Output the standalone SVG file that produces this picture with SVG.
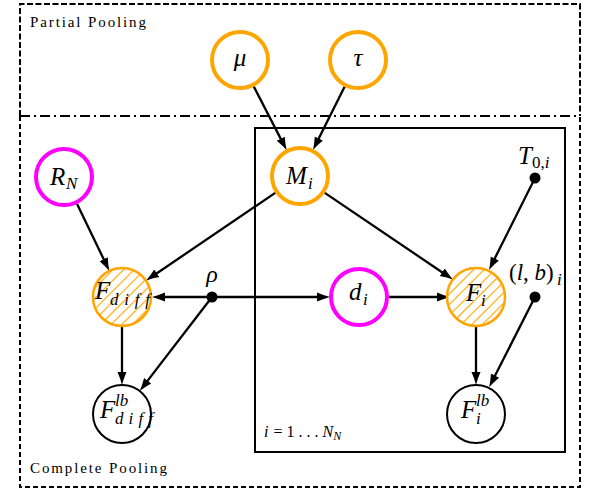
<svg xmlns="http://www.w3.org/2000/svg" width="598" height="492" viewBox="0 0 598 492">
<defs>
<marker id="arr" markerUnits="userSpaceOnUse" markerWidth="15" markerHeight="11" viewBox="0 0 15 11" refX="6" refY="5.5" orient="auto">
<path d="M0,1 Q7,4 13,5.5 Q7,7 0,10 Z" fill="#000"/>
</marker>
<pattern id="hatch" patternUnits="userSpaceOnUse" width="7.5" height="7.5" patternTransform="rotate(45)">
<rect width="7.5" height="7.5" fill="#fff"/>
<line x1="0" y1="0" x2="0" y2="7.5" stroke="#FFA500" stroke-width="2.2"/>
</pattern>
</defs>
<rect width="598" height="492" fill="#fff"/>

<g id="frames" fill="none" stroke="#000" stroke-width="2">
<path d="M20,116 V4 H580 V116" stroke-dasharray="6 2.5"/>
<path d="M20,116 V487 H580 V116" stroke-dasharray="5 3"/>
<line x1="20" y1="116" x2="580" y2="116" stroke-dasharray="10 4 2 4"/>
<rect x="255" y="128" width="310" height="324"/>
</g>

<g id="labels">
<text font-family="Liberation Serif, serif" x="30" y="27" font-size="15" textLength="116">Partial Pooling</text>
<text font-family="Liberation Serif, serif" x="30" y="473" font-size="15" textLength="137">Complete Pooling</text>
<text font-family="Liberation Serif, serif" x="264" y="437" font-size="16"><tspan font-style="italic">i</tspan><tspan dx="5">= 1 . . . </tspan><tspan font-style="italic">N</tspan><tspan font-style="italic" font-size="12" dy="3">N</tspan></text>
</g>

<g id="connectors" stroke="#000" stroke-width="2.3" fill="none" marker-end="url(#arr)">
<line x1="253.8" y1="86.6" x2="283.5" y2="144.1"/>
<line x1="344.6" y1="86.8" x2="316.1" y2="143.8"/>
<line x1="77.1" y1="204" x2="106.3" y2="264.6"/>
<line x1="275.2" y1="192.9" x2="151.8" y2="276.7"/>
<line x1="324.8" y1="192.9" x2="447.2" y2="275.7"/>
<line x1="535" y1="178" x2="492.1" y2="263.8"/>
<line x1="212" y1="297" x2="159" y2="297"/>
<line x1="212" y1="297" x2="323" y2="297"/>
<line x1="389" y1="297" x2="443" y2="297"/>
<line x1="212" y1="297" x2="144" y2="385.4"/>
<line x1="122" y1="327" x2="122" y2="378"/>
<line x1="476" y1="326" x2="476" y2="378"/>
<line x1="535" y1="297" x2="492.3" y2="381"/>
</g>

<g id="nodes">
<g id="node-mu">
<circle cx="240" cy="60" r="28" fill="#fff" stroke="#FFA500" stroke-width="4"/>
<text font-family="Liberation Serif, serif" font-style="italic" x="240" y="66" font-size="25" text-anchor="middle">μ</text>
</g>
<g id="node-tau">
<circle cx="358" cy="60" r="28" fill="#fff" stroke="#FFA500" stroke-width="4"/>
<text font-family="Liberation Serif, serif" font-style="italic" x="358" y="66" font-size="25" text-anchor="middle">τ</text>
</g>
<g id="node-M">
<circle cx="300" cy="176" r="28" fill="#fff" stroke="#FFA500" stroke-width="4"/>
<text font-family="Liberation Serif, serif" font-style="italic" x="286" y="184" font-size="25">M</text>
<text font-family="Liberation Serif, serif" font-style="italic" x="308" y="189" font-size="17">i</text>
</g>
<g id="node-RN">
<circle cx="64" cy="177" r="28" fill="#fff" stroke="#FF00FF" stroke-width="4"/>
<text font-family="Liberation Serif, serif" font-style="italic" x="50" y="185" font-size="25">R</text>
<text font-family="Liberation Serif, serif" font-style="italic" x="66" y="189" font-size="17">N</text>
</g>
<g id="node-Fdiff">
<circle cx="122" cy="297" r="29" fill="url(#hatch)" stroke="#FFA500" stroke-width="2.5"/>
<text font-family="Liberation Serif, serif" font-style="italic" x="95" y="299" font-size="25">F</text>
<text font-family="Liberation Serif, serif" font-style="italic" x="110" y="305" font-size="17" textLength="40" lengthAdjust="spacing">diff</text>
</g>
<g id="node-rho">
<circle cx="212" cy="297" r="5.5" fill="#000"/>
<text font-family="Liberation Serif, serif" font-style="italic" x="212" y="282" font-size="24" text-anchor="middle">ρ</text>
</g>
<g id="node-Fdifflb">
<circle cx="122" cy="414" r="29" fill="#fff" stroke="#000" stroke-width="2"/>
<text font-family="Liberation Serif, serif" font-style="italic" x="100" y="418" font-size="25">F</text>
<text font-family="Liberation Serif, serif" font-style="italic" x="115" y="406" font-size="17">lb</text>
<text font-family="Liberation Serif, serif" font-style="italic" x="115" y="424" font-size="17" textLength="38" lengthAdjust="spacing">diff</text>
</g>
<g id="node-d">
<circle cx="359" cy="297" r="28" fill="#fff" stroke="#FF00FF" stroke-width="4"/>
<text font-family="Liberation Serif, serif" font-style="italic" x="349" y="300" font-size="25">d</text>
<text font-family="Liberation Serif, serif" font-style="italic" x="363" y="305" font-size="17">i</text>
</g>
<g id="node-Fi">
<circle cx="476" cy="297" r="29" fill="url(#hatch)" stroke="#FFA500" stroke-width="2.5"/>
<text font-family="Liberation Serif, serif" font-style="italic" x="466" y="301" font-size="25">F</text>
<text font-family="Liberation Serif, serif" font-style="italic" x="481" y="306" font-size="17">i</text>
</g>
<g id="node-Filb">
<circle cx="476" cy="414" r="29" fill="#fff" stroke="#000" stroke-width="2"/>
<text font-family="Liberation Serif, serif" font-style="italic" x="461" y="418" font-size="25">F</text>
<text font-family="Liberation Serif, serif" font-style="italic" x="476" y="406" font-size="17">lb</text>
<text font-family="Liberation Serif, serif" font-style="italic" x="476" y="424" font-size="17">i</text>
</g>
<g id="node-T0">
<circle cx="535" cy="178" r="5.5" fill="#000"/>
<text font-family="Liberation Serif, serif" font-style="italic" x="518" y="164" font-size="25">T</text>
<text font-family="Liberation Serif, serif" x="532" y="168" font-size="17">0,<tspan font-style="italic">i</tspan></text>
</g>
<g id="node-lb">
<circle cx="535" cy="297" r="5.5" fill="#000"/>
<text font-family="Liberation Serif, serif" x="509" y="280" font-size="23">(<tspan font-style="italic">l</tspan>, <tspan font-style="italic">b</tspan>)</text>
<text font-family="Liberation Serif, serif" font-style="italic" x="557" y="285" font-size="17">i</text>
</g>
</g>
</svg>
